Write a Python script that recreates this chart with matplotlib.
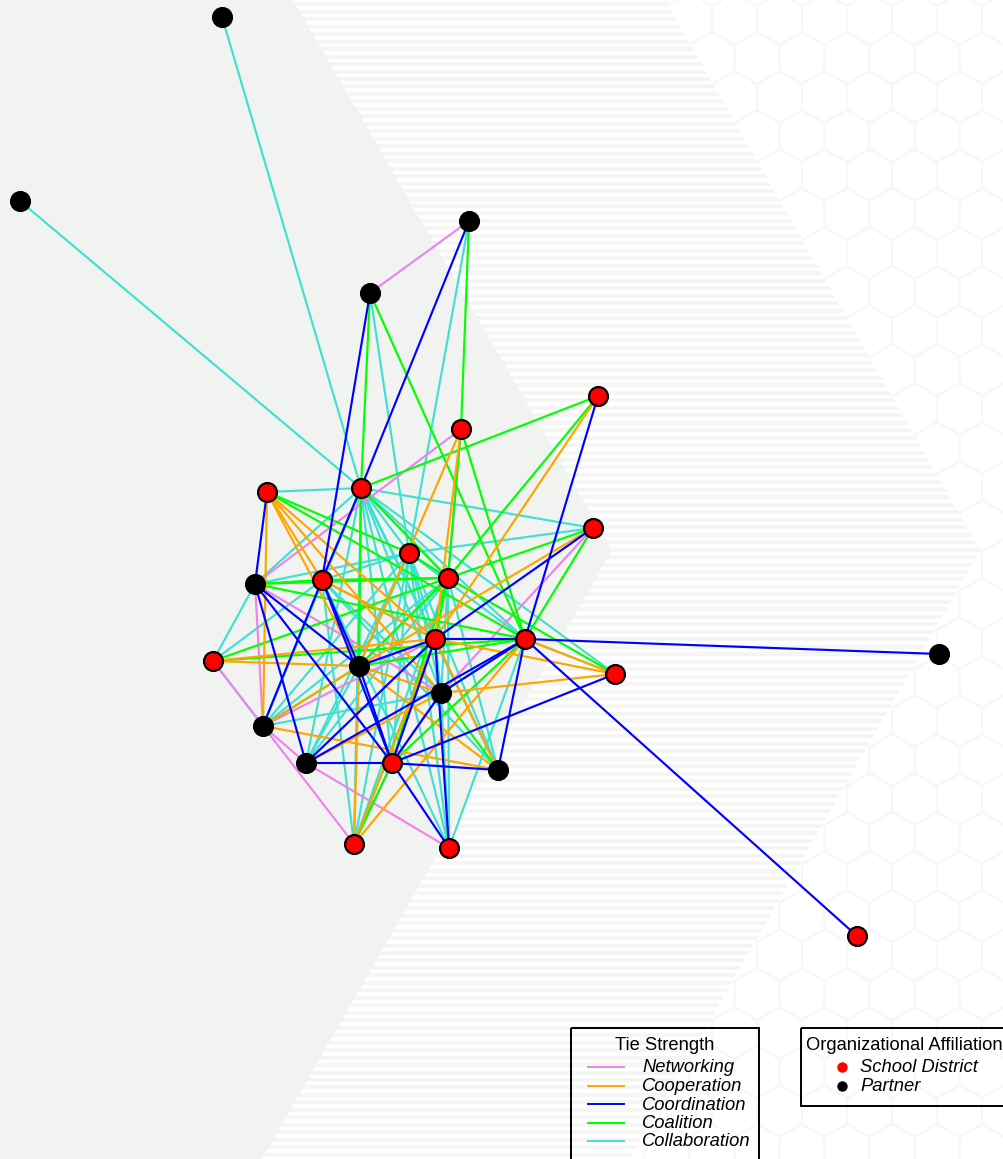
import numpy as np
import matplotlib
matplotlib.use('Agg')
import matplotlib.pyplot as plt
from matplotlib.patches import Polygon, Rectangle
from matplotlib.collections import LineCollection

plt.rcParams['font.family'] = ['Liberation Sans', 'DejaVu Sans']

# node positions, in picture pixels
node_names = ['A', 'B', 'C', 'D', 'E', 'F', 'G', 'H', 'I', 'J', 'K', 'L', 'M', 'N',
              'O', 'P', 'Q', 'R', 'S', 'T', 'U', 'V', 'W', 'X', 'Y', 'Z', 'AA']
node_x = [222, 20, 469, 370, 598, 461, 361, 267, 593, 409, 255, 322, 448, 435,
          525, 213, 359, 615, 939, 441, 263, 306, 392, 498, 354, 449, 857]
node_y = [17, 201, 221, 293, 396, 429, 488, 492, 528, 553, 584, 580, 578, 639,
          639, 661, 666, 674, 654, 693, 726, 763, 763, 770, 844, 848, 936]
partners = ['A', 'B', 'C', 'D', 'K', 'Q', 'S', 'T', 'U', 'V', 'X']

# ties by strength
networking = 'C-D K-F K-T P-U K-U U-V U-Y V-Z W-Y U-N I-T W-T N-Q F-M'
cooperation = ('H-L H-U H-Q H-T H-N L-N P-Q P-N U-X U-Q V-T Q-T Q-X Q-Y N-X T-R '
               'Y-O Y-N F-N N-E F-Q I-Q N-R O-R W-N')
coordination = ('D-L C-G G-L H-K K-V K-W K-Q L-Q L-U L-W Q-W V-W V-N V-O O-T W-X W-R '
                'W-Z W-T W-N N-Z O-X O-E O-S O-AA N-O N-I N-Q')
coalition = ('D-G D-O C-F F-M E-M E-G I-M I-O F-O H-J H-O M-R L-M K-L K-M K-O G-Q '
             'P-M P-O U-Q M-Q M-N J-M Q-O T-X W-O W-M Y-W Y-N G-M T-O')
collaboration = ('A-G B-G C-J D-J H-G G-I G-J G-M G-N G-O G-T G-W G-Q G-Z G-X G-R G-K G-L '
                 'G-U G-V K-J K-P P-U P-L L-J L-N L-T L-X L-W L-U J-U J-V J-Q J-N J-T '
                 'J-W J-Y J-Z J-O I-J M-U M-V M-Y M-W M-Q M-Z U-T O-R O-Z X-G T-Z N-Y '
                 'L-Y L-Z G-Y J-X M-T M-X N-T V-Q')

legend_labels = ['Networking', 'Cooperation', 'Coordination', 'Coalition', 'Collaboration']
legend_colors = ['#EE82EE', '#FFA500', '#0000FF', '#00FF00', '#40E0D0']
tie_lists = [networking, cooperation, coordination, coalition, collaboration]
draw_order = [4, 0, 3, 1, 2]

pos = dict(zip(node_names, zip(node_x, node_y)))

fig = plt.figure(figsize=(10.04, 11.59), dpi=100)
ax = fig.add_axes([0, 0, 1, 1])
ax.set_xlim(0, 1004)
ax.set_ylim(1159, 0)
ax.axis('off')

# background: hexagons, striped chevron, solid chevron
hex_w = 45.0
hex_s = 26.0
segs = []
for row in range(31):
    cy = 19 + row * 39
    for col in range(-1, 8):
        cx = 689.5 + col * hex_w + (row % 2) * hex_w / 2
        pts = [(cx + hex_s * np.sin(a), cy + hex_s * np.cos(a)) for a in np.radians(np.arange(0, 361, 60))]
        segs.append(pts)
ax.add_collection(LineCollection(segs, colors='#F7F7F5', linewidths=1.4, zorder=1))

grey = '#F1F3F1'
stripe_zone = Polygon([(0, 0), (665, 0), (980, 550), (630, 1159), (0, 1159)], fc='white', ec='none', zorder=2)
ax.add_patch(stripe_zone)
for y in np.arange(4.3, 1160, 7.47):
    line = ax.plot([0, 1004], [y, y], color='#F5F6F4', lw=2.8, solid_capstyle='butt', zorder=3)[0]
    line.set_clip_path(stripe_zone)
ax.add_patch(Polygon([(0, 0), (293, 0), (612, 550), (262, 1159), (0, 1159)], fc=grey, ec='none', zorder=4))

# ties
for i in draw_order:
    for tie in tie_lists[i].split():
        a, b = tie.split('-')
        ax.plot([pos[a][0], pos[b][0]], [pos[a][1], pos[b][1]], color=legend_colors[i], lw=1.55,
                solid_capstyle='round', zorder=5)

# nodes
for name in node_names:
    color = 'black' if name in partners else 'red'
    ax.plot(pos[name][0], pos[name][1], 'o', ms=13.6, mfc=color, mec='black', mew=1.6, zorder=6)

# legends
ax.add_patch(Rectangle((571.5, 1028), 188, 150, fc='none', ec='black', lw=1.4, zorder=7))
ax.add_patch(Rectangle((801.5, 1028), 230, 78, fc='none', ec='black', lw=1.4, zorder=7))
ax.text(665, 1045, 'Tie Strength', ha='center', va='center', fontsize=13.2, zorder=8)
ax.text(806, 1045, 'Organizational Affiliation', ha='left', va='center', fontsize=13.2, zorder=8)
for i in range(5):
    y = 1068 + i * 18.5
    ax.plot([588, 624], [y - 1, y - 1], color=legend_colors[i], lw=1.4, zorder=8)
    ax.text(642, y, legend_labels[i], ha='left', va='center', fontsize=13.2, style='italic', zorder=8)
for i, (lab, col) in enumerate(zip(['School District', 'Partner'], ['red', 'black'])):
    y = 1068 + i * 18.5
    ax.plot(842, y - 1, 'o', ms=7.5, color=col, mew=0, zorder=8)
    ax.text(860, y, lab, ha='left', va='center', fontsize=13.2, style='italic', zorder=8)

fig.savefig('out.png', dpi=100)
